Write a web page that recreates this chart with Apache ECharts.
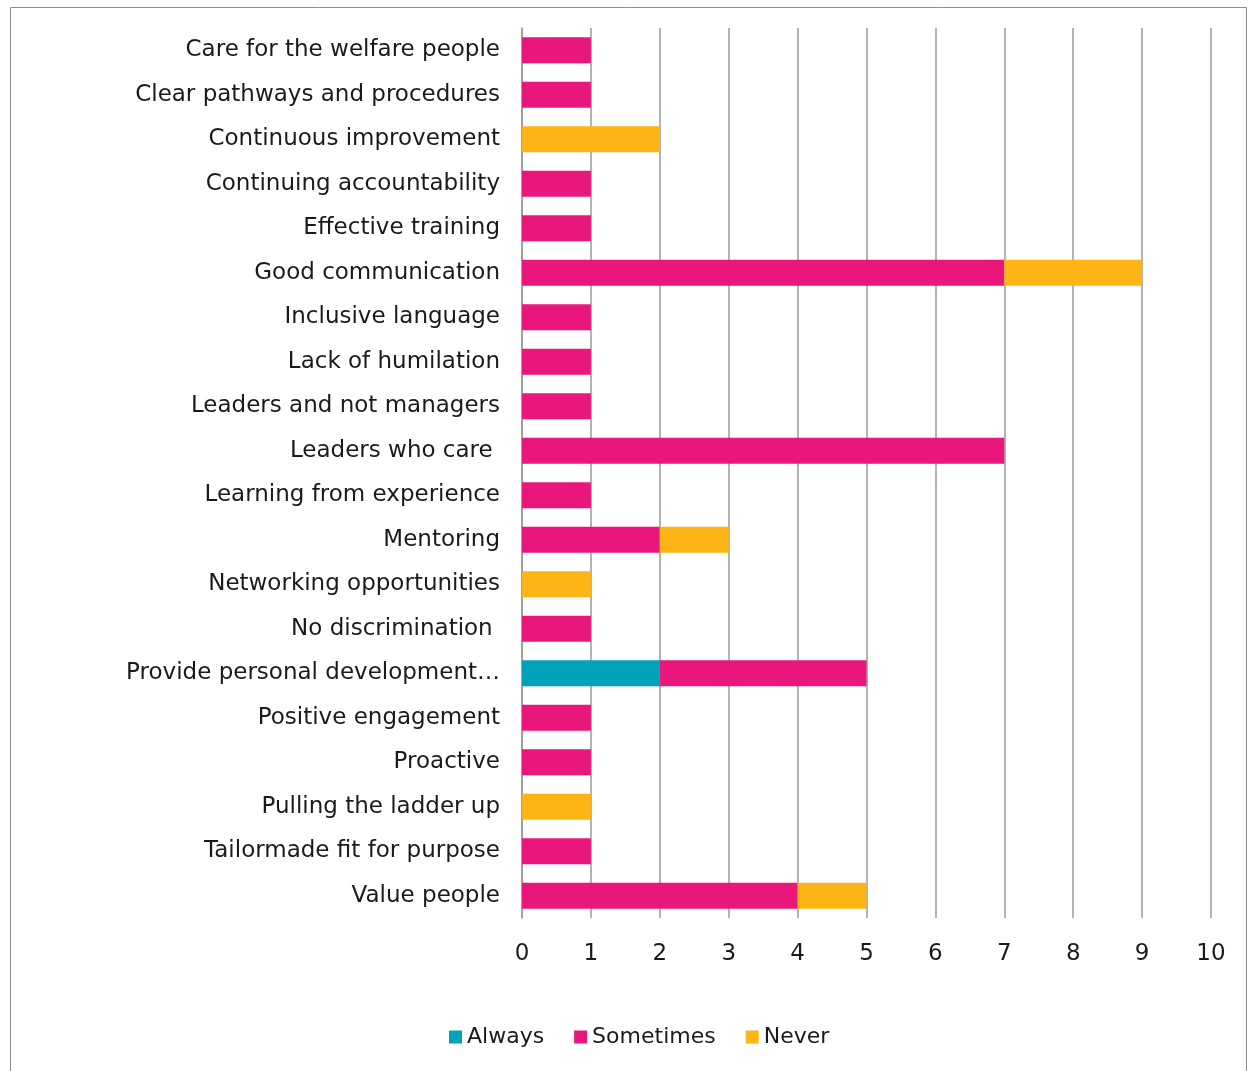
<!DOCTYPE html>
<html>
<head>
<meta charset="utf-8">
<script src="https://cdn.jsdelivr.net/npm/echarts@6/dist/echarts.min.js"></script>
<style>
  html, body { margin: 0; padding: 0; background: #fff; }
  #chart { width: 1253px; height: 1071px; }
</style>
</head>
<body>
<div id="chart"></div>
<script>
// Responses per attribute, split by how often it is seen
const categories = [
  'Care for the welfare people',
  'Clear pathways and procedures',
  'Continuous improvement',
  'Continuing accountability',
  'Effective training',
  'Good communication',
  'Inclusive language',
  'Lack of humilation',
  'Leaders and not managers',
  'Leaders who care ',
  'Learning from experience',
  'Mentoring',
  'Networking opportunities',
  'No discrimination ',
  'Provide personal development…',
  'Positive engagement',
  'Proactive',
  'Pulling the ladder up',
  'Tailormade fit for purpose',
  'Value people'
];
const always    = [0, 0, 0, 0, 0, 0, 0, 0, 0, 0, 0, 0, 0, 0, 2, 0, 0, 0, 0, 0];
const sometimes = [1, 1, 0, 1, 1, 7, 1, 1, 1, 7, 1, 2, 0, 1, 3, 1, 1, 0, 1, 4];
const never     = [0, 0, 2, 0, 0, 2, 0, 0, 0, 0, 0, 1, 1, 0, 0, 0, 0, 1, 0, 1];
const xTicks = [0, 1, 2, 3, 4, 5, 6, 7, 8, 9, 10];

const FONT = '"DejaVu Sans", sans-serif';
const TEXT = '#1a1a1a';
const chart = echarts.init(document.getElementById('chart'));

function bar(name, data, color) {
  return {
    name: name,
    type: 'bar',
    stack: 'total',
    barWidth: 26,
    data: data.map(v => (v === 0 ? null : v)),
    itemStyle: { color: color },
    emphasis: { disabled: true }
  };
}

chart.setOption({
  animation: false,
  textStyle: { fontFamily: FONT },
  grid: { left: 522, right: 42, top: 28, bottom: 153, containLabel: false },
  graphic: [{
    type: 'rect',
    shape: { x: 10.5, y: 7.5, width: 1236, height: 1080 },
    style: { fill: null, stroke: '#8c8c8c', lineWidth: 1 },
    silent: true
  }],
  legend: {
    bottom: 18,
    left: 444,
    itemWidth: 13,
    itemHeight: 13,
    itemGap: 30,
    icon: 'rect',
    textStyle: { fontFamily: FONT, fontSize: 22, color: TEXT },
    data: ['Always', 'Sometimes', 'Never']
  },
  xAxis: {
    type: 'value',
    min: xTicks[0],
    max: xTicks[xTicks.length - 1],
    interval: 1,
    axisLine: { show: false },
    axisTick: { show: false },
    axisLabel: { fontFamily: FONT, fontSize: 23, color: TEXT, margin: 25 },
    splitLine: { show: true, lineStyle: { color: '#9a9a9a', width: 1.5 } }
  },
  yAxis: {
    type: 'category',
    inverse: true,
    data: categories,
    axisLine: { show: true, lineStyle: { color: '#9a9a9a', width: 1.5 } },
    axisTick: { show: false },
    axisLabel: { fontFamily: FONT, fontSize: 23, color: TEXT, margin: 22 }
  },
  series: [
    bar('Always', always, '#00A2BA'),
    bar('Sometimes', sometimes, '#E9177B'),
    bar('Never', never, '#FDB515')
  ]
});
</script>
</body>
</html>
